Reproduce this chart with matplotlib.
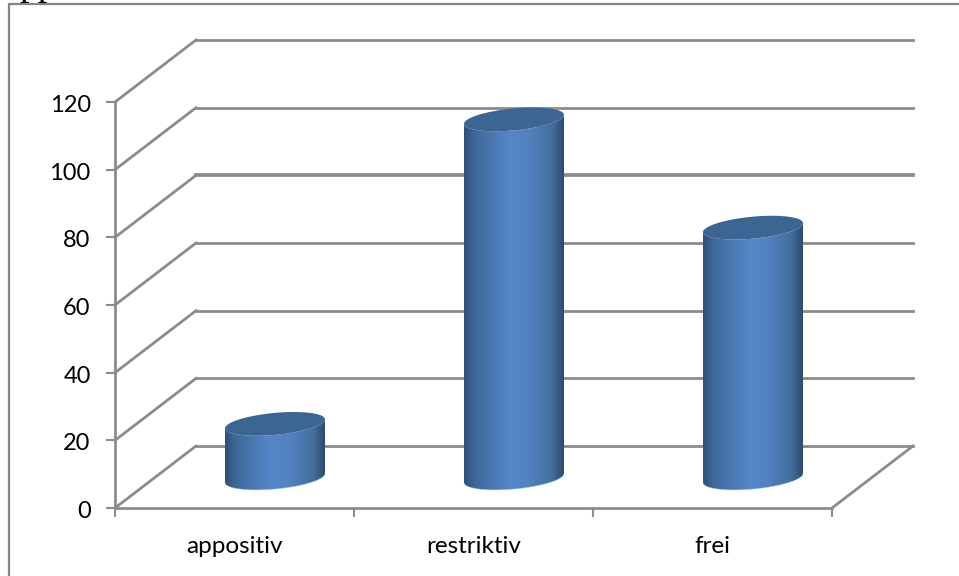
#!/usr/bin/env python3
"""Pseudo-3D cylinder chart of clause types, with a receding wall and floor."""
import matplotlib

matplotlib.use("Agg")
import matplotlib.pyplot as plt
import numpy as np
from matplotlib.colors import LinearSegmentedColormap
from matplotlib.patches import PathPatch, Rectangle
from matplotlib.path import Path
from matplotlib.transforms import ScaledTranslation

categories = ["appositiv", "restriktiv", "frei"]
values = [16, 106, 74]
y_ticks = [0, 20, 40, 60, 80, 100, 120]

W, H = 959, 576
GRID = "#8c8c8c"

plt.rcParams["font.family"] = ["Lato", "DejaVu Sans"]

fig = plt.figure(figsize=(W / 100, H / 100), dpi=100)
fig.patch.set_facecolor("white")

# front plane of the plot box, in pixels from the top left
left, right, top, bottom = 115, 832, 102, 508
ax = fig.add_axes([left / W, 1 - bottom / H, (right - left) / W, (bottom - top) / H])
ax.set_xlim(0, 3)
ax.set_ylim(0, 120)
ax.patch.set_alpha(0)

px_x = 3 / (right - left)
px_y = 120 / (bottom - top)
depth_x = 81 * px_x
depth_y = 62 * px_y

# outer chart frame, running off the right and bottom edges
fig.add_artist(Rectangle((9 / W, -0.05), 1.0, 1 - 4 / H + 0.05, transform=fig.transFigure,
                         fill=False, edgecolor="#868686", linewidth=1.6))

# wall and floor lines
for v in y_ticks:
    lw = 2.7 if v == 80 else 2.0
    ax.plot([0, depth_x], [v, v + depth_y], color=GRID, lw=2.0, clip_on=False, zorder=1)
    ax.plot([depth_x, 3 + depth_x], [v + depth_y, v + depth_y],
            color=GRID, lw=lw, clip_on=False, zorder=1)
ax.plot([3, 3 + depth_x], [0, depth_y], color=GRID, lw=2.0, clip_on=False, zorder=1)

for name in ["top", "right"]:
    ax.spines[name].set_visible(False)
for name in ["left", "bottom"]:
    ax.spines[name].set_color(GRID)
    ax.spines[name].set_linewidth(2.0)
    ax.spines[name].set_zorder(2)

ax.set_yticks(y_ticks)
ax.set_xticks([0, 1, 2, 3])
ax.set_xticklabels([])
ax.set_xticks([0.5, 1.5, 2.5], categories, minor=True)
ax.tick_params(axis="both", which="major", length=6.5, width=1.5, color=GRID,
               labelsize=17, labelcolor="black", pad=11)
ax.tick_params(axis="x", which="minor", length=0, labelsize=17.5, pad=20)

# nudge the value labels down a touch against their ticks
nudge = ScaledTranslation(0, -1.5 / 100, fig.dpi_scale_trans)
for label in ax.get_yticklabels():
    label.set_transform(label.get_transform() + nudge)

# cylinder shading, dark at the edges and brightest just left of centre
shade = LinearSegmentedColormap.from_list(
    "cyl", [(0, "#2f5078"), (0.1, "#3d6899"), (0.45, "#5586c8"), (0.62, "#5383c3"),
            (0.88, "#44709f"), (1, "#2d4b70")])
strip = np.linspace(0, 1, 200).reshape(1, -1)

half_w = 50 * px_x
ry = 11 * px_y
tilt = 4.5 * px_y
t = np.linspace(0, 2 * np.pi, 181)

for i, v in enumerate(values):
    cx = i + 0.5 + depth_x / 2
    base = depth_y / 2 - 0.3
    top_y = base + v

    # outline: lower half of the bottom ellipse, upper rim follows the top ellipse
    lower = np.linspace(np.pi, 0, 91)
    xs_low = cx + half_w * np.cos(lower)
    ys_low = base + tilt * np.cos(lower) - ry * np.sin(lower)
    upper = np.linspace(0, np.pi, 91)
    xs_up = cx + half_w * np.cos(upper)
    ys_up = top_y + tilt * np.cos(upper) - ry * np.sin(upper)
    body = np.column_stack([np.r_[xs_low, xs_up], np.r_[ys_low, ys_up]])

    clip = PathPatch(Path(np.vstack([body, body[0]]), closed=True),
                     transform=ax.transData, fc="none", ec="none")
    ax.add_patch(clip)
    clip.set_clip_on(False)
    img = ax.imshow(strip, cmap=shade, aspect="auto", vmin=0, vmax=1, zorder=3,
                    extent=[cx - half_w, cx + half_w, base - 2 * ry, top_y + 2 * ry])
    img.set_clip_path(clip)

    # pale fringe along the floor edge
    ax.plot(xs_low, ys_low, color="#a5c2ea", lw=0.5, alpha=0.7, zorder=3, clip_on=False)

    # top face
    ex = cx + half_w * np.cos(t)
    ey = top_y + tilt * np.cos(t) + ry * np.sin(t)
    ax.fill(ex, ey, color="#3d6592", lw=0, zorder=4, clip_on=False)

ax.set_xlim(0, 3)
ax.set_ylim(0, 120)

# tail of the line of body text sitting above the chart
fig.text(19 / W, 1 + 5 / H, "pp", family="Liberation Serif", fontsize=27,
         va="baseline", ha="left", color="black")

fig.savefig("out.png", dpi=100)
